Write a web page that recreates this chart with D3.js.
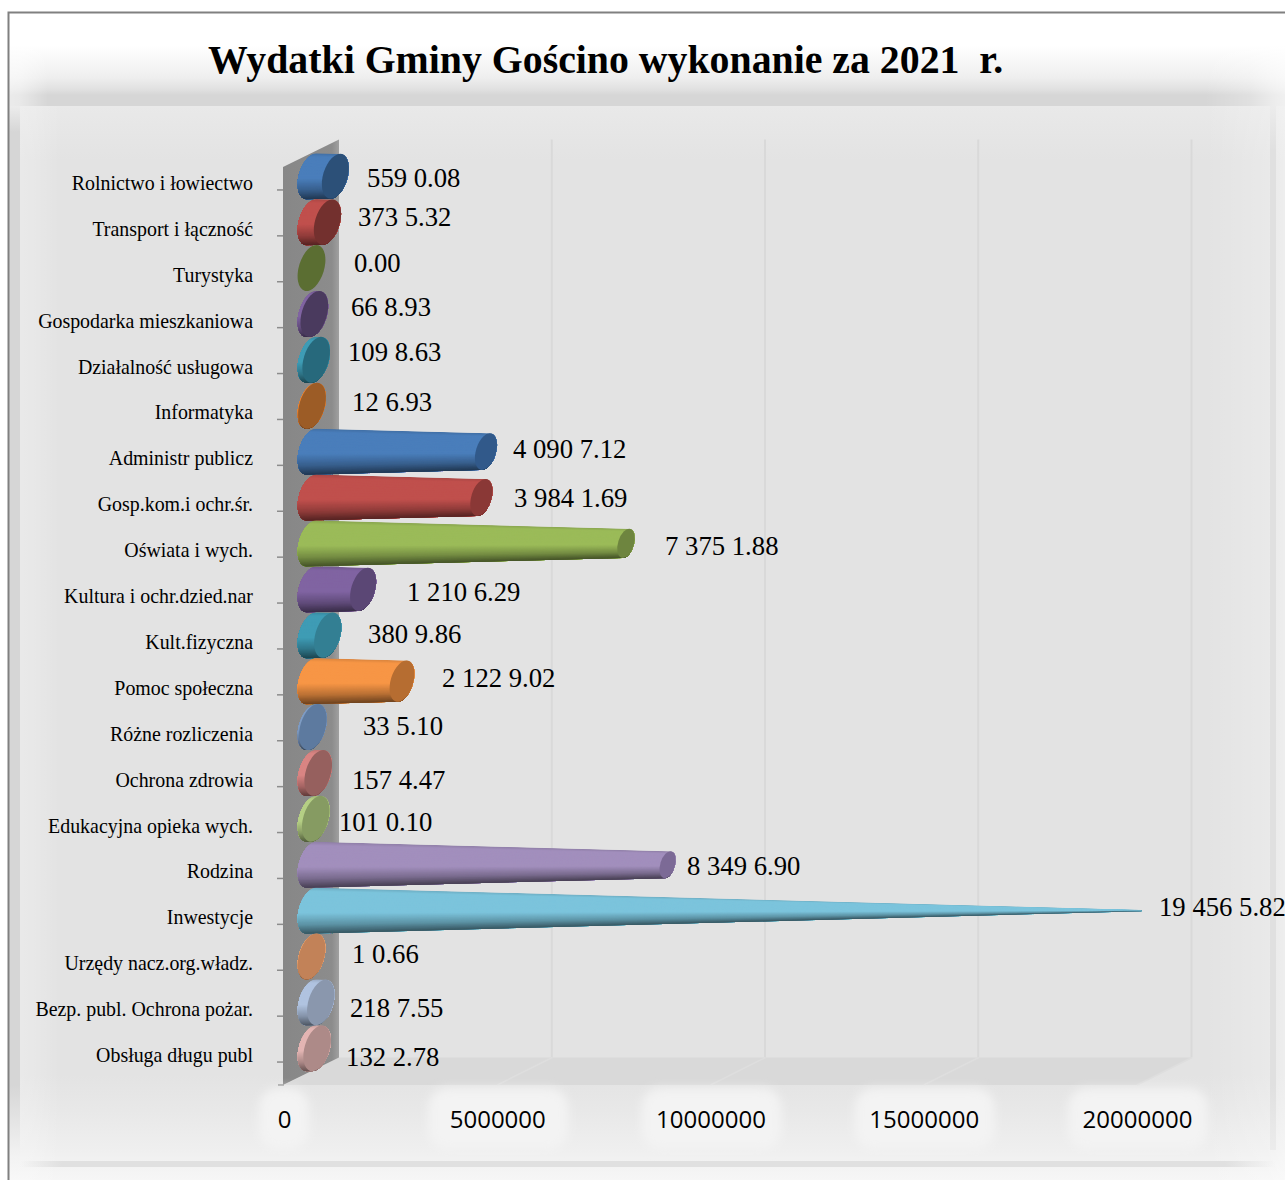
<!DOCTYPE html>
<html><head><meta charset="utf-8">
<script src="https://cdn.jsdelivr.net/npm/d3@7/dist/d3.min.js"></script>
<style>html,body{margin:0;padding:0;background:#fff;overflow:hidden}svg{display:block}</style>
</head><body><div id="c"></div>
<script>
const chartTitle = "Wydatki Gminy Gościno wykonanie za 2021  r.";
const categories = ["Rolnictwo i łowiectwo","Transport i łączność","Turystyka","Gospodarka mieszkaniowa","Działalność usługowa","Informatyka","Administr publicz","Gosp.kom.i ochr.śr.","Oświata i wych.","Kultura i ochr.dzied.nar","Kult.fizyczna","Pomoc społeczna","Różne rozliczenia","Ochrona zdrowia","Edukacyjna opieka wych.","Rodzina","Inwestycje","Urzędy nacz.org.władz.","Bezp. publ. Ochrona pożar.","Obsługa długu publ"];
const values = [559008,373532,0,66893,109863,12693,4090712,3984169,7375188,1210629,380986,2122902,33510,157447,101010,8349690,19456582,1066,218755,132278];
const valueLabels = ["559 0.08","373 5.32","0.00","66 8.93","109 8.63","12 6.93","4 090 7.12","3 984 1.69","7 375 1.88","1 210 6.29","380 9.86","2 122 9.02","33 5.10","157 4.47","101 0.10","8 349 6.90","19 456 5.82","1 0.66","218 7.55","132 2.78"];
const bodyColors = ["#4a7ebb","#c0504d","#9bbb59","#8064a2","#3f9cb5","#e9873a","#4a7ebb","#c0504d","#9bbb59","#8064a2","#3f9cb5","#f79646","#7f9cc4","#d98583","#b5cf85","#a28fbd","#7cc4dc","#f0ab78","#b0c3e0","#e3b5b3"];
const capColors = ["#2c5078","#73302e","#5b6e32","#4a3a5e","#27697c","#9c5c26","#31598a","#8a3836","#6e853f","#5b4775","#337f93","#b66d31","#5d7a9f","#96605e","#869b62","#7c6a96","#4f93ac","#c28258","#8a97ad","#ad8a88"];
const axisTicks = [0,5000000,10000000,15000000,20000000];
const labelNudgeX = [31.7,30.6,42.5,36.6,31.8,40,27,32.6,39,43.9,40.3,40,50,33.8,23.2,19.4,17.7,40.5,29.2,28.9];
const labelNudgeY = [1.3,-5.6,-5.5,-7.4,-8.3,-4.2,-3.1,0,2.1,2.2,-1.7,-3.6,-1.5,6.6,2.7,.8,-4.1,-3,5.1,8.2];

const W=1285,H=1180;
const svg=d3.select("#c").append("svg").attr("width",W).attr("height",H).attr("viewBox",`0 0 ${W} ${H}`);
const defs=svg.append("defs");
function grad(id,vertical,x0,x1,stops){
  const g=defs.append("linearGradient").attr("id",id).attr("gradientUnits","userSpaceOnUse");
  if(vertical) g.attr("x1",0).attr("x2",0).attr("y1",x0).attr("y2",x1);
  else g.attr("y1",0).attr("y2",0).attr("x1",x0).attr("x2",x1);
  stops.forEach(s=>g.append("stop").attr("offset",(s[0]-x0)/(x1-x0)).attr("stop-color",s[1]).attr("stop-opacity",s[2]===undefined?1:s[2]));
}
grad("bgV",true,12,1180,[[12,"#fff"],[46,"#fff"],[54,"#fbfbfb"],[66,"#f5f5f5"],[78,"#eeeeee"],[89,"#e1e1e1"],[95,"#d6d6d6"],[105.5,"#d6d6d6"],[106,"#e9e9e9"],[160,"#e3e3e3"],[1075,"#e3e3e3"],[1110,"#e8e8e8"],[1150,"#efefef"],[1180,"#f6f6f6"]]);
grad("leftFade",false,10,48,[[10,"#fff",.5],[20,"#fff",.45],[33,"#fff",.25],[48,"#fff",0]]);
grad("leftIn",false,20,60,[[20,"#fff",.22],[33,"#fff",.18],[60,"#fff",0]]);
grad("rightIn",false,1205,1285,[[1205,"#fff",0],[1268,"#fff",.22],[1285,"#fff",.4]]);
grad("rightFade",false,1205,1285,[[1205,"#fff",0],[1250,"#fff",.25],[1270,"#fff",.5],[1285,"#fff",.65]]);
grad("leftStrip",true,106,1180,[[106,"#ececec"],[132,"#d6d6d6"],[1085,"#d6d6d6"],[1120,"#e4e4e4"],[1155,"#f2f2f2"],[1180,"#f8f8f8"]]);
grad("rightStrip",true,106,1180,[[106,"#ececec"],[150,"#e0e0e0"],[1085,"#e0e0e0"],[1150,"#ececec"]]);
grad("bottomBand",false,20,1285,[[20,"#e0e0e0",0],[62,"#e0e0e0",1],[1225,"#e0e0e0",1],[1275,"#e0e0e0",0]]);
grad("wallG",false,283,339,[[283,"#878787"],[332,"#8c8c8c"],[339,"#a0a0a0"]]);
defs.append("filter").attr("id","blur").attr("x","-30%").attr("y","-30%").attr("width","160%").attr("height","160%")
  .append("feGaussianBlur").attr("stdDeviation",5);

// background
const bg=svg.append("g");
bg.append("rect").attr("x",8).attr("y",12).attr("width",W).attr("height",H).attr("fill","url(#bgV)");
bg.append("rect").attr("x",1205).attr("y",106).attr("width",80).attr("height",1074).attr("fill","url(#rightIn)");
bg.append("rect").attr("x",1270).attr("y",106).attr("width",6).attr("height",1044).attr("fill","url(#rightStrip)");
bg.append("rect").attr("x",20).attr("y",106).attr("width",40).attr("height",1074).attr("fill","url(#leftIn)");
bg.append("rect").attr("x",9).attr("y",106).attr("width",11).attr("height",1074).attr("fill","url(#leftStrip)");
bg.append("rect").attr("x",20).attr("y",1161).attr("width",1265).attr("height",6).attr("fill","url(#bottomBand)");
bg.append("rect").attr("x",9).attr("y",12).attr("width",39).attr("height",94).attr("fill","url(#leftFade)");
bg.append("rect").attr("x",1205).attr("y",12).attr("width",80).attr("height",94).attr("fill","url(#rightFade)");
bg.append("path").attr("d",`M8.5,${H}V12.5H${W}`).attr("fill","none").attr("stroke","#808080").attr("stroke-width",2);

// scales
const plotLeft=284,plotRight=1137,plotTop=167,plotBottom=1085,depthX=55,depthY=-27.5;
const x=d3.scaleLinear().domain([0,20000000]).range([plotLeft,plotRight]);
const y=d3.scaleBand().domain(categories).range([plotTop,plotBottom]);

// walls
const walls=svg.append("g");
walls.append("path").attr("d",`M${plotLeft},${plotBottom}L${plotLeft+depthX},${plotBottom+depthY}L${plotRight+depthX},${plotBottom+depthY}L${plotRight},${plotBottom}Z`).attr("fill","#d9d9d9");
axisTicks.slice(1).forEach(t=>{
  walls.append("line").attr("x1",x(t)+depthX-.5).attr("x2",x(t)+depthX-.5).attr("y1",plotTop+depthY).attr("y2",plotBottom+depthY).attr("stroke","#d9d9d9").attr("stroke-width",2);
  walls.append("line").attr("x1",x(t)).attr("x2",x(t)+depthX).attr("y1",plotBottom).attr("y2",plotBottom+depthY).attr("stroke","#dedede").attr("stroke-width",1.5);
});
walls.append("path").attr("d",`M${plotLeft-1},${plotTop}L${plotLeft+depthX},${plotTop+depthY}V${plotBottom+depthY}L${plotLeft-1},${plotBottom}Z`).attr("fill","url(#wallG)");

// axes
const yAxis=d3.axisLeft(y).tickSize(6).tickPadding(24);
const gy=svg.append("g").attr("transform",`translate(${plotLeft-1},0)`).call(yAxis);
gy.select(".domain").remove();
gy.selectAll("line").attr("stroke","#8c8c8c").attr("stroke-width",1.5);
gy.selectAll("text").attr("font-family","'Liberation Serif'").attr("font-size",19.9).attr("fill","#000").attr("dy","0");
svg.append("line").attr("x1",plotLeft-6).attr("x2",plotLeft).attr("y1",plotBottom).attr("y2",plotBottom).attr("stroke","#8c8c8c").attr("stroke-width",1.5);

const labelHalo=svg.append("g").attr("filter","url(#blur)");
const xAxis=d3.axisBottom(x).tickValues(axisTicks).tickFormat(d3.format("d")).tickSize(0).tickPadding(22);
const gx=svg.append("g").attr("transform",`translate(0,${plotBottom})`).call(xAxis);
gx.select(".domain").remove();
gx.selectAll("text").attr("font-family","'Open Sans'").attr("font-size",24).attr("fill","#000").attr("dy","0.35em").attr("y",35);
axisTicks.forEach((t,i)=>{
  const w=i===0?50:140;
  labelHalo.append("rect").attr("x",x(t)-w/2+(i===0?0:1)).attr("y",1088).attr("width",w).attr("height",62).attr("rx",20).attr("fill","#f3f3f3");
});

// cone geometry: tilted ellipse; the cone tapers to a point at the axis maximum
const A=23.8,B=12.6,TH=17*Math.PI/180;
const hh=Math.sqrt(A*A*Math.cos(TH)**2+B*B*Math.sin(TH)**2);
const topOff=(A*A-B*B)*Math.sin(TH)*Math.cos(TH)/hh;
const cx0=x(0)+depthX/2;
const cones=svg.append("g");
categories.forEach((c,i)=>{
  const v=values[i], s=1-v/x.domain()[1];
  const cy=y(c)+y.bandwidth()/2+depthY/2;
  const cx1=x(v)+depthX/2;
  const g=cones.append("g");
  const sil=`M${cx0+topOff},${cy-hh}L${cx1+topOff*s},${cy-hh*s}A${A*s},${B*s},-73,0,1,${cx1-topOff*s},${cy+hh*s}L${cx0-topOff},${cy+hh}A${A},${B},-73,0,1,${cx0+topOff},${cy-hh}Z`;
  if(v>0){
    const id="clip"+i;
    defs.append("clipPath").attr("id",id).append("path").attr("d",sil);
    const base=d3.color(bodyColors[i]);
    const ramp=d3.scaleLinear().domain([0,.08,.55,.8,1]).range([base.darker(.35),base,base,base.darker(.8),base.darker(2.3)]).interpolate(d3.interpolateRgb);
    const strips=g.append("g").attr("clip-path",`url(#${id})`);
    const N=60;
    const xa=cx0-20, xb=cx1+20;
    const L=cx1-cx0;
    const halfAt=px=>{const t=L>0?(px-cx0)/L:0; return hh*(1+(s-1)*t);};
    // painted top-down, each strip reaching the bottom edge, so no seams show
    for(let k=0;k<N;k++){
      const f0=-1+2*k/N;
      strips.append("path").attr("d",`M${xa},${cy+f0*halfAt(xa)}L${xb},${cy+f0*halfAt(xb)}L${xb},${cy+halfAt(xb)}L${xa},${cy+halfAt(xa)}Z`).attr("fill",ramp((k+.5)/N));
    }
  }
  g.append("ellipse").attr("cx",0).attr("cy",0).attr("rx",A*s).attr("ry",B*s)
    .attr("transform",`translate(${cx1},${cy}) rotate(-73)`).attr("fill",capColors[i]);
  // data label
  svg.append("text").attr("x",cx1+labelNudgeX[i]).attr("y",cy+labelNudgeY[i]).attr("dy","0.34em")
    .attr("font-family","'Liberation Serif'").attr("font-size",26.7).attr("fill","#000").text(valueLabels[i]);
});

// title
svg.append("text").attr("x",208).attr("y",73).attr("font-family","'Liberation Serif'").attr("font-weight","bold")
  .attr("font-size",39.8).attr("fill","#000").attr("xml:space","preserve").style("white-space","pre").text(chartTitle);
</script></body></html>
